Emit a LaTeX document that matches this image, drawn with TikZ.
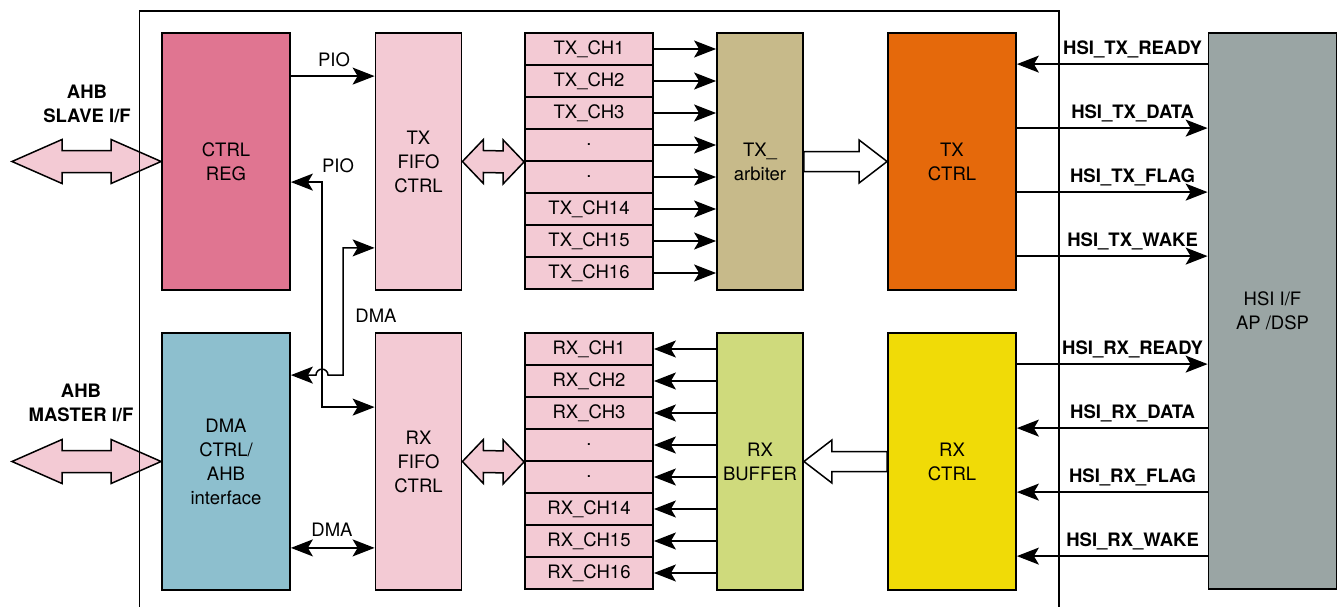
\documentclass[tikz,border=0pt]{standalone}
\usepackage{fontspec}
\setmainfont{TeX Gyre Heros}
\usepackage{tikz}
\usetikzlibrary{arrows.meta,positioning,calc}
\definecolor{regpink}{HTML}{E07591}
\definecolor{fifopink}{HTML}{F3CAD4}
\definecolor{dmablue}{HTML}{8DBFCE}
\definecolor{arbkhaki}{HTML}{C7BA8A}
\definecolor{bufgreen}{HTML}{CFDA7C}
\definecolor{txorange}{HTML}{E5690B}
\definecolor{rxyellow}{HTML}{F0DB07}
\definecolor{hsigray}{HTML}{9AA5A4}
\tikzset{
  blk/.style={draw=black,line width=1.8pt,align=center,inner sep=0pt,
              font=\fontsize{18.5}{24}\selectfont},
  wideblk/.style={blk,minimum width=128,minimum height=257},
  narrowblk/.style={blk,fill=fifopink,minimum width=86,minimum height=257},
  chcell/.style={blk,fill=fifopink,minimum width=128,minimum height=32},
  sig/.style={line width=1.5pt,draw=black,
              >={Stealth[length=22pt,width=17pt,inset=5pt]}},
  tohsi/.style={->},
  tohub/.style={<-},
  fat/.style={draw=black,line width=1.5pt,line join=miter},
  frame/.style={draw=black,line width=1.5pt},
  sidelbl/.style={font=\bfseries\fontsize{18.5}{24}\selectfont,align=center},
  siglbl/.style={font=\bfseries\fontsize{18.5}{22}\selectfont,anchor=base},
  wirelbl/.style={font=\fontsize{18.5}{22}\selectfont}
}
% hollow double arrow: left tip, right tip, head length, fill
\newcommand{\fatdbl}[4]{%
  \filldraw[fat,fill=#4] (#1) -- ($(#1)+(#3,-22)$) -- ($(#1)+(#3,-11)$)
    -- ($(#2)+(-#3,-11)$) -- ($(#2)+(-#3,-22)$) -- (#2)
    -- ($(#2)+(-#3,22)$) -- ($(#2)+(-#3,11)$) -- ($(#1)+(#3,11)$)
    -- ($(#1)+(#3,22)$) -- cycle;}
% hollow single arrow: tail, tip, direction (1 right, -1 left)
\newcommand{\fatone}[3]{%
  \filldraw[fat,fill=white] ($(#1)+(0,-10)$) -- ($(#2)+(-28*#3,-10)$)
    -- ($(#2)+(-28*#3,-21.5)$) -- (#2) -- ($(#2)+(-28*#3,21.5)$)
    -- ($(#2)+(-28*#3,10)$) -- ($(#1)+(0,10)$) -- cycle;}

\begin{document}
\begin{tikzpicture}[x=1pt,y=-1pt]
  \useasboundingbox (0,0) rectangle (1338,607);
  \fill[white] (0,0) rectangle (1338,607);

  \node[wideblk,fill=regpink] (ctrlreg) at (226,161.5) {CTRL\\REG};
  \node[narrowblk] (txfifo) at (418.5,161.5) {TX\\FIFO\\CTRL};
  \node[narrowblk,fill=arbkhaki] (txarb) at (760,161.5) {TX\_\\arbiter};
  \node[wideblk,fill=txorange] (txctrl) at (952,161.5) {TX\\CTRL};
  \node[wideblk,fill=dmablue] (dmactrl) at (226,461.5)
    {DMA\\CTRL/\\AHB\\interface};
  \node[narrowblk] (rxfifo) at (418.5,461.5) {RX\\FIFO\\CTRL};
  \node[narrowblk,fill=bufgreen] (rxbuf) at (760,461.5) {RX\\BUFFER};
  \node[wideblk,fill=rxyellow] (rxctrl) at (952,461.5) {RX\\CTRL};
  \node[wideblk,fill=hsigray,minimum height=556] (hsi) at (1272.5,311)
    {HSI I/F\\AP /DSP};

  \foreach \lbl [count=\i] in {TX\_CH1,TX\_CH2,TX\_CH3,.,.,TX\_CH14,TX\_CH15,TX\_CH16}{
    \node[chcell] (txch\i) at (589,{17+32*\i}) {\lbl};
    \draw[sig,->] (txch\i.east) -- (txch\i.east -| txarb.west);
  }
  \foreach \lbl [count=\i] in {RX\_CH1,RX\_CH2,RX\_CH3,.,.,RX\_CH14,RX\_CH15,RX\_CH16}{
    \node[chcell] (rxch\i) at (589,{317+32*\i}) {\lbl};
    \draw[sig,->] (rxch\i.east -| rxbuf.west) -- (rxch\i.east);
  }

  \coordinate (slavetip) at (12,161.5);
  \coordinate (mastertip) at (12,461.5);
  \fatdbl{slavetip}{ctrlreg.west}{50}{fifopink}
  \fatdbl{mastertip}{dmactrl.west}{50}{fifopink}
  \fatdbl{txfifo.east}{txch4.south west}{21}{fifopink}
  \fatdbl{rxfifo.east}{rxch4.south west}{21}{fifopink}
  \fatone{txarb.east}{txctrl.west}{1}
  \fatone{rxctrl.west}{rxbuf.east}{-1}

  \node[sidelbl] (slavelbl) at (87,103.5) {AHB\\SLAVE I/F};
  \node[sidelbl] (masterlbl) at (81,402.5) {AHB\\MASTER I/F};

  % PIO and DMA wires
  \coordinate (piox) at (322,0);
  \coordinate (dmax) at (343,0);
  \coordinate (piot) at ($(ctrlreg.north east)+(0,44)$);
  \coordinate (pioc) at ($(ctrlreg.north east)+(0,150)$);
  \coordinate (pior) at ($(rxfifo.north west)+(0,75)$);
  \coordinate (dmat) at ($(txfifo.south west)+(0,-43)$);
  \coordinate (dmad) at ($(dmactrl.north east)+(0,43)$);
  \coordinate (dmab) at ($(dmactrl.south east)+(0,-43)$);
  \draw[sig,->] (piot) -- (piot -| txfifo.west);
  \draw[sig,<->] (pioc) -| (piox |- pior) -- (pior);
  \draw[sig,<->] (dmat) -| (dmax |- dmad) -- ($(piox |- dmad)+(6,0)$)
    arc[start angle=0,end angle=-180,radius=6] -- (dmad);
  \draw[sig,<->] (dmab) -- (dmab -| rxfifo.west);
  \node[wirelbl] (piolbl1) at (334,60) {PIO};
  \node[wirelbl] (piolbl2) at (338,166) {PIO};
  \node[wirelbl] (dmalbl1) at (376,316) {DMA};
  \node[wirelbl] (dmalbl2) at (332,530) {DMA};

  % HSI signals
  \foreach \k/\lbl/\dir in {0/HSI\_TX\_READY/tohub,1/HSI\_TX\_DATA/tohsi,
      2/HSI\_TX\_FLAG/tohsi,3/HSI\_TX\_WAKE/tohsi}{
    \coordinate (s) at ($(txctrl.north east)+(0,32+64*\k)$);
    \draw[sig,\dir] (s) -- (hsi.west |- s);
    \node[siglbl] at ($(hsi.west |- s)+(-75,-10)$) {\lbl};
  }
  \foreach \k/\lbl/\dir in {0/HSI\_RX\_READY/tohsi,1/HSI\_RX\_DATA/tohub,
      2/HSI\_RX\_FLAG/tohub,3/HSI\_RX\_WAKE/tohub}{
    \coordinate (s) at ($(rxctrl.north east)+(0,32+64*\k)$);
    \draw[sig,\dir] (s) -- (hsi.west |- s);
    \node[siglbl] at ($(hsi.west |- s)+(-75,-10)$) {\lbl};
  }

  \draw[frame] (139.5,630) |- (1059,11) -- (1059,630);
\end{tikzpicture}
\end{document}
